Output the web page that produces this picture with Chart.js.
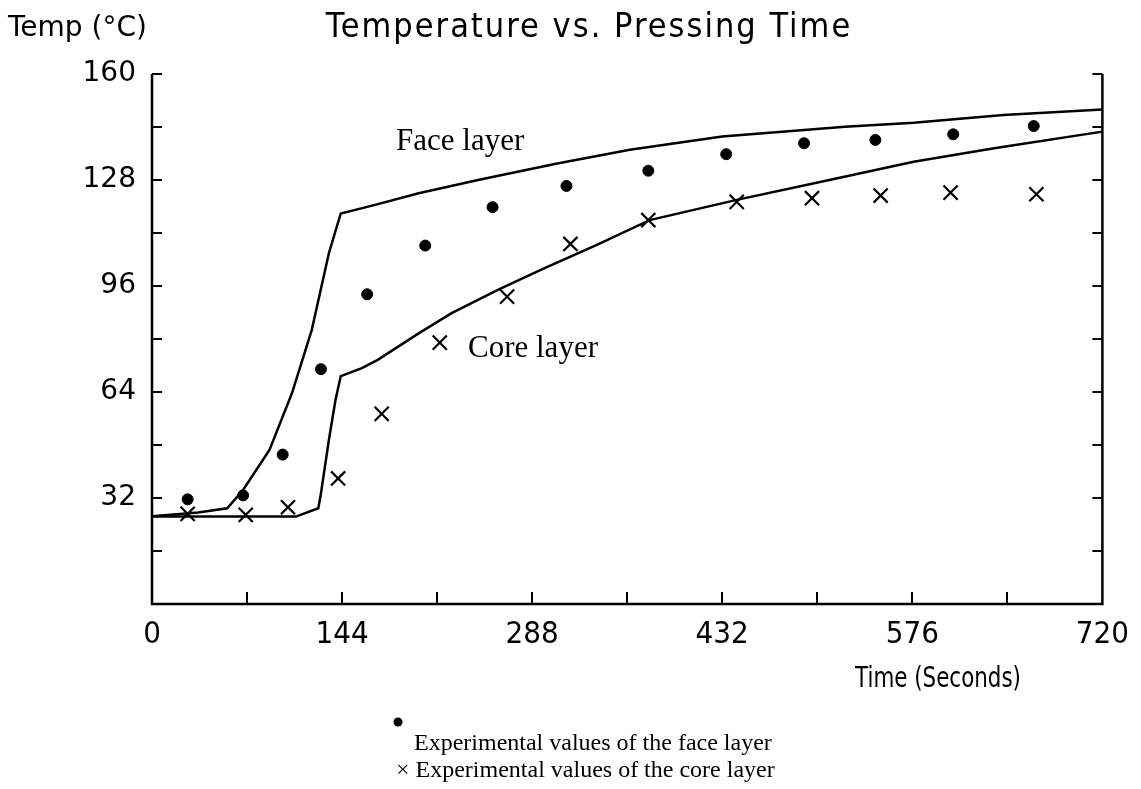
<!DOCTYPE html>
<html>
<head>
<meta charset="utf-8">
<title>Temperature vs. Pressing Time</title>
<script src="https://cdn.jsdelivr.net/npm/chart.js@4/dist/chart.umd.min.js"></script>
<style>
  html, body { margin: 0; padding: 0; background: #fff; }
  #wrap { width: 1141px; height: 789px; }
</style>
</head>
<body>
<div id="wrap"><canvas id="chart" width="1141" height="789"></canvas></div>
<script>
// experimental points (seconds, degC)
const faceTime = [27, 69, 99, 128, 163, 207, 258, 314, 376, 435, 494, 548, 607, 668];
const faceTemp = [31.6, 32.8, 45.1, 70.9, 93.5, 108.2, 119.8, 126.2, 130.8, 135.8, 139.1, 140.1, 141.8, 144.3];
const coreTime = [27, 71, 103, 141, 174, 218, 269, 317, 376, 443, 500, 552, 605, 670];
const coreTemp = [27.2, 26.9, 29.2, 37.9, 57.4, 78.9, 92.8, 108.7, 115.9, 121.4, 122.5, 123.3, 124.2, 123.7];

// model curves
const faceModelTime = [0, 35, 57, 69, 89, 106, 121, 134, 143, 169, 202, 247, 307, 362, 432, 525, 577, 645, 720];
const faceModelTemp = [26.5, 27.6, 28.9, 34.4, 46.5, 63.6, 82.7, 105.9, 117.9, 120.5, 124.0, 128.0, 133.0, 137.1, 141.1, 144.1, 145.3, 147.6, 149.3];
const coreModelTime = [0, 109, 126, 128, 134, 139, 143, 159, 171, 202, 227, 262, 297, 337, 377, 443, 507, 577, 638, 720];
const coreModelTemp = [26.4, 26.4, 28.9, 33.4, 49.5, 61.6, 68.8, 71.2, 73.7, 81.7, 87.8, 94.8, 101.3, 108.4, 115.9, 122.0, 127.5, 133.5, 137.6, 142.6];

// tick settings
const xStep = 72;
const xLabelEvery = 144;
const yStep = 16;
const yLabelEvery = 32;

function pts(xs, ys) {
  return xs.map((x, i) => ({x: x, y: ys[i]}));
}

const monoFont = 'DejaVu Sans';
const narrowFont = 'DejaVu Sans Condensed';
const serifFont = 'Liberation Serif';

// frame, inward ticks and the free texts
const framePlugin = {
  id: 'frame',
  afterDraw(chart) {
    const ctx = chart.ctx;
    const a = chart.chartArea;
    const xs = chart.scales.x;
    const ys = chart.scales.y;
    ctx.save();
    ctx.strokeStyle = '#000';
    ctx.lineWidth = 2.5;
    ctx.beginPath();
    ctx.moveTo(a.left, a.top);
    ctx.lineTo(a.left, a.bottom);
    ctx.lineTo(a.right, a.bottom);
    ctx.lineTo(a.right, a.top);
    ctx.stroke();

    ctx.lineWidth = 2;
    ctx.beginPath();
    ys.ticks.forEach((t) => {
      const py = Math.round(ys.getPixelForValue(t.value));
      if (t.value === 0) return;
      ctx.moveTo(a.left, py);
      ctx.lineTo(a.left + 10, py);
      ctx.moveTo(a.right, py);
      ctx.lineTo(a.right - 10, py);
    });
    xs.ticks.forEach((t) => {
      const px = Math.round(xs.getPixelForValue(t.value));
      if (t.value === 0 || t.value === 720) return;
      ctx.moveTo(px, a.bottom);
      ctx.lineTo(px, a.bottom - 12);
    });
    ctx.stroke();

    ctx.fillStyle = '#000';
    ctx.textBaseline = 'alphabetic';
    ctx.textAlign = 'left';
    ctx.font = '28px "' + monoFont + '"';
    ctx.fillText('Temp (°C)', 8, 36);
    ctx.textAlign = 'center';
    ctx.font = '34px "' + narrowFont + '"';
    ctx.letterSpacing = '2px';
    ctx.fillText('Temperature vs. Pressing Time', 589, 37);
    ctx.letterSpacing = '0px';

    // x axis title, squeezed a little like the original bitmap font
    ctx.save();
    ctx.translate(938, 687);
    ctx.scale(0.85, 1);
    ctx.font = '28px "' + narrowFont + '"';
    ctx.fillText('Time (Seconds)', 0, 0);
    ctx.restore();

    // curve labels
    ctx.textAlign = 'left';
    ctx.font = '31px "' + serifFont + '"';
    ctx.fillText('Face layer', 396, 150);
    ctx.fillText('Core layer', 468, 357);

    // key under the chart
    ctx.font = '24px "' + serifFont + '"';
    ctx.fillText('Experimental values of the face layer', 414, 750);
    ctx.fillText('× Experimental values of the core layer', 396, 777);
    ctx.beginPath();
    ctx.arc(398, 722, 4.5, 0, Math.PI * 2);
    ctx.fill();
    ctx.restore();
  },
};

new Chart(document.getElementById('chart'), {
  type: 'scatter',
  data: {
    datasets: [
      {
        label: 'Face layer (model)',
        data: pts(faceModelTime, faceModelTemp),
        showLine: true,
        borderColor: '#000',
        borderWidth: 2.5,
        pointRadius: 0,
        tension: 0,
      },
      {
        label: 'Core layer (model)',
        data: pts(coreModelTime, coreModelTemp),
        showLine: true,
        borderColor: '#000',
        borderWidth: 2.5,
        pointRadius: 0,
        tension: 0,
      },
      {
        label: 'Experimental values of the face layer',
        data: pts(faceTime, faceTemp),
        pointStyle: 'circle',
        pointRadius: 5.5,
        backgroundColor: '#000',
        borderColor: '#000',
        borderWidth: 1,
      },
      {
        label: 'Experimental values of the core layer',
        data: pts(coreTime, coreTemp),
        pointStyle: 'crossRot',
        pointRadius: 10,
        borderColor: '#000',
        borderWidth: 2.2,
      },
    ],
  },
  options: {
    responsive: false,
    animation: false,
    devicePixelRatio: 1,
    clip: false,
    layout: {
      padding: {left: 0, right: 33, top: 74, bottom: 129},
    },
    plugins: {
      legend: {display: false},
      title: {display: false},
      tooltip: {enabled: false},
    },
    scales: {
      x: {
        type: 'linear',
        min: 0,
        max: 720,
        afterFit: (s) => {
          s.height = 56;
        },
        border: {display: false},
        grid: {display: false, drawTicks: false},
        ticks: {
          stepSize: xStep,
          autoSkip: false,
          maxRotation: 0,
          padding: 12,
          color: '#000',
          font: {family: narrowFont, size: 31},
          callback: (v) => (v % xLabelEvery === 0 ? v : ''),
        },
      },
      y: {
        type: 'linear',
        min: 0,
        max: 160,
        afterFit: (s) => {
          s.width = 152;
        },
        border: {display: false},
        grid: {display: false, drawTicks: false},
        ticks: {
          stepSize: yStep,
          autoSkip: false,
          padding: 16,
          color: '#000',
          font: {family: monoFont, size: 28},
          callback: (v) => (v % yLabelEvery === 0 && v > 0 ? v : ''),
        },
      },
    },
  },
  plugins: [framePlugin],
});
</script>
</body>
</html>
